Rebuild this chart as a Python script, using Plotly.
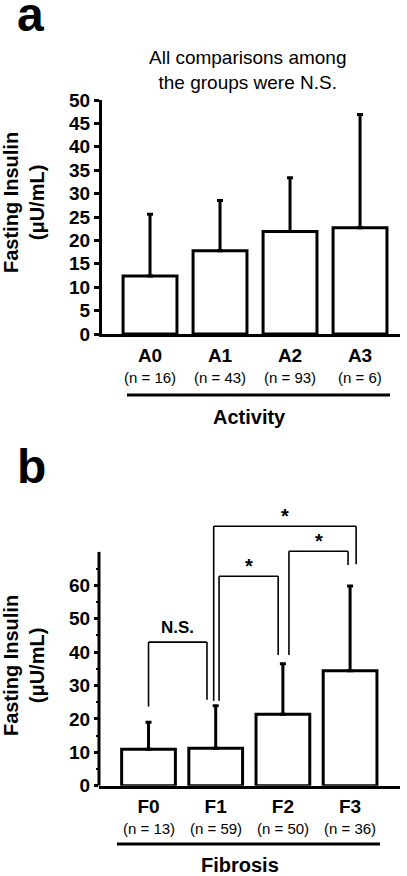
import plotly.graph_objects as go

# ---------------- data ----------------
activity_groups = ["A0", "A1", "A2", "A3"]
activity_n = [16, 43, 93, 6]
activity_mean = [12.4, 17.8, 21.9, 22.7]
activity_sd = [13.2, 10.7, 11.5, 24.2]
activity_ticks = [0, 5, 10, 15, 20, 25, 30, 35, 40, 45, 50]

fibrosis_groups = ["F0", "F1", "F2", "F3"]
fibrosis_n = [13, 59, 50, 36]
fibrosis_mean = [10.9, 11.2, 21.4, 34.4]
fibrosis_sd = [8.1, 12.7, 15.1, 25.4]
fibrosis_ticks = [0, 10, 20, 30, 40, 50, 60]
fibrosis_minor = [5, 15, 25, 35, 45, 55, 65]

# significance comparisons: left group, right group, label
fibrosis_comparisons = [
    ("F0", "F1", "N.S."),
    ("F1", "F2", "*"),
    ("F2", "F3", "*"),
    ("F1", "F3", "*"),
]
# bracket geometry (left offset, right offset, top, left leg end, right leg end)
bracket_geom = [
    (0.00, -0.13, 43.0, 23.7, 25.7),
    (0.05, -0.07, 62.7, 25.4, 39.1),
    (0.09, -0.03, 70.2, 39.1, 66.1),
    (-0.03, 0.09, 77.7, 25.4, 66.3),
]

FONT = "Liberation Sans, Arial, Helvetica, sans-serif"
W, H = 407, 876


def px(x):
    return x / W


def py(y):
    return 1 - y / H


fig = go.Figure()

fig.add_trace(go.Bar(
    x=activity_groups, y=activity_mean, width=0.77,
    marker=dict(color="white", line=dict(color="black", width=3)),
    error_y=dict(type="data", symmetric=False, array=activity_sd,
                 arrayminus=[0] * len(activity_sd), color="black",
                 thickness=3, width=3),
    xaxis="x", yaxis="y", showlegend=False, hoverinfo="skip",
))
fig.add_trace(go.Bar(
    x=fibrosis_groups, y=fibrosis_mean, width=0.80,
    marker=dict(color="white", line=dict(color="black", width=3)),
    error_y=dict(type="data", symmetric=False, array=fibrosis_sd,
                 arrayminus=[0] * len(fibrosis_sd), color="black",
                 thickness=3, width=3),
    xaxis="x2", yaxis="y2", showlegend=False, hoverinfo="skip",
))

tickfont = dict(family=FONT, size=19, color="black", weight="bold")

fig.update_layout(
    width=W, height=H,
    margin=dict(l=0, r=0, t=0, b=0, pad=0, autoexpand=False),
    paper_bgcolor="white", plot_bgcolor="white",
    xaxis=dict(domain=[px(102), px(400)], anchor="y", range=[-0.686, 3.571],
               showline=True, linewidth=3, linecolor="black",
               ticks="outside", ticklen=2, tickcolor="rgba(0,0,0,0)",
               tickfont=tickfont, showgrid=False, zeroline=False, automargin=False,
               categoryorder="array", categoryarray=activity_groups),
    yaxis=dict(domain=[py(334), py(100)], anchor="x", range=[0, 50],
               tickmode="array", tickvals=activity_ticks,
               ticks="outside", ticklen=5, tickwidth=3, tickcolor="black",
               showline=True, linewidth=3, linecolor="black", automargin=False,
               tickfont=tickfont, showgrid=False, zeroline=False),
    xaxis2=dict(domain=[px(99), px(400)], anchor="y2", range=[-0.737, 3.743],
                showline=True, linewidth=3, linecolor="black",
                ticks="outside", ticklen=1, tickcolor="rgba(0,0,0,0)",
                tickfont=tickfont, showgrid=False, zeroline=False, automargin=False,
                categoryorder="array", categoryarray=fibrosis_groups),
    yaxis2=dict(domain=[py(785.7), py(501.8)], anchor="x2", range=[0, 85],
                tickmode="array", tickvals=fibrosis_ticks,
                ticks="outside", ticklen=4, tickwidth=3, tickcolor="black",
                minor=dict(tickmode="array", tickvals=fibrosis_minor,
                           ticks="outside", ticklen=2, tickwidth=2,
                           tickcolor="black", showgrid=False),
                showline=False, tickfont=tickfont, showgrid=False,
                zeroline=False, automargin=False),
)

shapes = []
annotations = []


def ann(**kw):
    base = dict(showarrow=False, xanchor="center", yanchor="middle")
    base.update(kw)
    annotations.append(base)


# panel b y-axis line (stops at 70)
shapes.append(dict(type="line", xref="paper", yref="y2", x0=px(99), x1=px(99),
                   y0=0, y1=70, line=dict(color="black", width=3)))

# group underline lines
shapes.append(dict(type="line", xref="paper", yref="paper", x0=px(127), x1=px(390),
                   y0=py(395), y1=py(395), line=dict(color="black", width=3)))
shapes.append(dict(type="line", xref="paper", yref="paper", x0=px(117), x1=px(380),
                   y0=py(844), y1=py(844), line=dict(color="black", width=3)))

# brackets
for (g1, g2, lab), (o1, o2, top, b1, b2) in zip(fibrosis_comparisons, bracket_geom):
    i1 = fibrosis_groups.index(g1) + o1
    i2 = fibrosis_groups.index(g2) + o2
    ln = dict(color="black", width=1.6)
    shapes.append(dict(type="line", xref="x2", yref="y2", x0=i1, x1=i1, y0=b1, y1=top, line=ln))
    shapes.append(dict(type="line", xref="x2", yref="y2", x0=i1, x1=i2, y0=top, y1=top, line=ln))
    shapes.append(dict(type="line", xref="x2", yref="y2", x0=i2, x1=i2, y0=top, y1=b2, line=ln))
    if lab == "*":
        ann(x=(i1 + i2) / 2, y=top, xref="x2", yref="y2", text="<b>*</b>",
            yanchor="bottom", yshift=-3, font=dict(family=FONT, size=20, color="black"))
    else:
        ann(x=(i1 + i2) / 2, y=top, xref="x2", yref="y2", text="<b>%s</b>" % lab,
            yanchor="bottom", yshift=3, font=dict(family=FONT, size=17, color="black"))

# n labels
for g, n in zip(activity_groups, activity_n):
    ann(x=g, y=py(377), xref="x", yref="paper", text="(n = %d)" % n,
        font=dict(family=FONT, size=15, color="black"))
for g, n in zip(fibrosis_groups, fibrosis_n):
    ann(x=g, y=py(828), xref="x2", yref="paper", text="(n = %d)" % n,
        font=dict(family=FONT, size=15, color="black"))

# group titles
ann(x=px(249), y=py(417), xref="paper", yref="paper", text="<b>Activity</b>",
    font=dict(family=FONT, size=20, color="black"))
ann(x=px(240), y=py(865), xref="paper", yref="paper", text="<b>Fibrosis</b>",
    font=dict(family=FONT, size=20, color="black"))

# y titles
for yc in (203, 666):
    ann(x=px(24), y=py(yc), xref="paper", yref="paper",
        text="<b>Fasting Insulin<br>(μU/mL)</b>", textangle=-90,
        font=dict(family=FONT, size=20, color="black"))

# panel a note
ann(x=px(247), y=py(70), xref="paper", yref="paper",
    text="All comparisons among<br>the groups were N.S.",
    font=dict(family=FONT, size=19, color="black"))

# panel letters
ann(x=px(15), y=py(15), xref="paper", yref="paper", text="<b>a</b>",
    xanchor="left", font=dict(family=FONT, size=48, color="black"))
ann(x=px(15), y=py(466), xref="paper", yref="paper", text="<b>b</b>",
    xanchor="left", font=dict(family=FONT, size=48, color="black"))

fig.update_layout(shapes=shapes, annotations=annotations)
fig.write_html("out.html",
               config={"displayModeBar": False},
               post_script="document.body.style.margin='0';document.body.style.padding='0';")
